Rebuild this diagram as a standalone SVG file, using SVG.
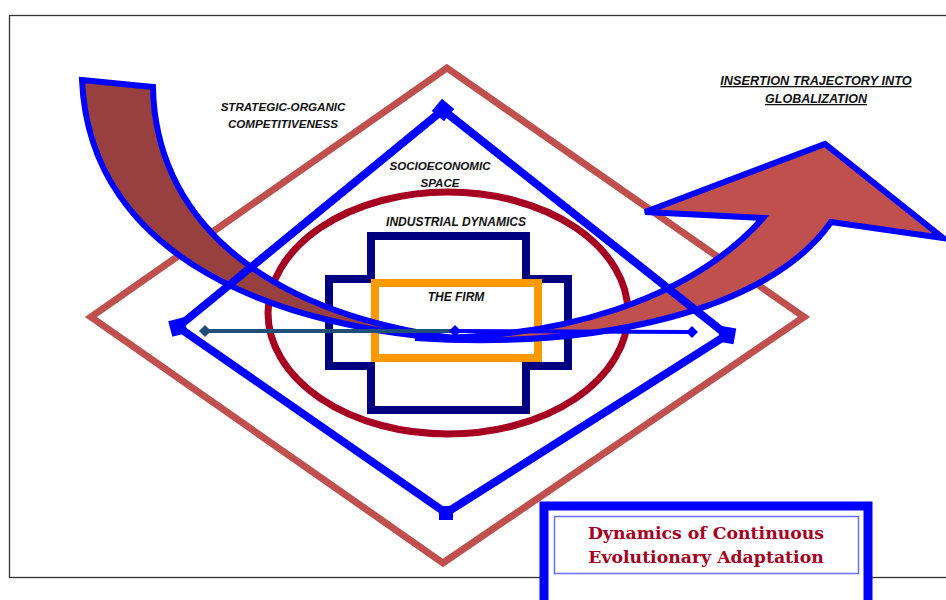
<svg xmlns="http://www.w3.org/2000/svg" width="946" height="600" viewBox="0 0 946 600">
<defs>
<style>
.lbl{font-family:"Liberation Sans",Arial,sans-serif;font-weight:bold;font-style:italic;fill:#111;text-anchor:middle}
.ttl{font-family:"DejaVu Serif","Liberation Serif",serif;font-weight:bold;fill:#A50021;text-anchor:middle;font-size:17.3px}
.bl{fill:none;stroke:#0000FF;stroke-width:8;stroke-linejoin:miter}
.mk{fill:#0000FF}
</style>
</defs>
<rect width="946" height="600" fill="#fff"/>
<rect id="frame" x="9.5" y="15.5" width="960" height="562" fill="none" stroke="#333" stroke-width="1.3"/>
<g id="strategic-diamond"><polygon points="447,68 804,317 443,563 91,317" fill="none" stroke="#C0504D" stroke-width="7"/></g>
<g id="industrial-ellipse"><ellipse cx="448" cy="313" rx="180" ry="121" fill="none" stroke="#A50021" stroke-width="7"/></g>
<g id="cross"><path d="M371,236 H526 V279 H568 V366 H526 V410 H371 V366 H329 V279 H371 Z" fill="none" stroke="#000080" stroke-width="8"/></g>
<g id="firm"><rect x="375" y="283" width="163" height="75" fill="none" stroke="#FF9900" stroke-width="8"/></g>
<g id="horn"><path d="M82,80 L153,87 C155,210 250,315 470,340 C280,330 90,260 82,80 Z" fill="#984040" stroke="#0000FF" stroke-width="6" stroke-linejoin="miter"/></g>
<g id="trajectory-arrow"><path d="M415,338 C560,340 690,300 763,218 L645,212 L825,144 L943,238 L831,222 C770,310 600,350 415,338 Z" fill="#C0504D" stroke="#0000FF" stroke-width="6" stroke-linejoin="miter"/></g>
<g id="space-diamond">
<polygon class="bl" points="443,110 727,335 446,513 178,327"/>
<rect class="mk" x="-8" y="-8" width="16" height="16" transform="translate(443,110) rotate(40)"/>
<rect class="mk" x="-8" y="-8" width="16" height="16" transform="translate(178,327) rotate(-15)"/>
<rect class="mk" x="-8" y="-8" width="16" height="16" transform="translate(727,335) rotate(10)"/>
<rect class="mk" x="-7" y="-7" width="14" height="14" transform="translate(446,513) rotate(0)"/>
</g>
<g id="connectors">
<line x1="205" y1="331" x2="455" y2="331" stroke="#1F4E79" stroke-width="4"/>
<line x1="455" y1="331" x2="692" y2="332" stroke="#0000FF" stroke-width="4"/>
<polygon points="205,325 211,331 205,337 199,331" fill="#1F4E79"/>
<polygon points="455,325 461,331 455,337 449,331" fill="#0000FF"/>
<polygon points="692,326 698,332 692,338 686,332" fill="#0000FF"/>
</g>
<g id="labels">
<text class="lbl" x="283" y="111" font-size="11.6">STRATEGIC-ORGANIC</text>
<text class="lbl" x="283" y="128" font-size="11.6">COMPETITIVENESS</text>
<text class="lbl" x="440" y="170" font-size="11.6">SOCIOECONOMIC</text>
<text class="lbl" x="440" y="187" font-size="11.6">SPACE</text>
<text class="lbl" x="456" y="226" font-size="12">INDUSTRIAL DYNAMICS</text>
<text class="lbl" x="456" y="301" font-size="12">THE FIRM</text>
<text class="lbl" x="816" y="85" font-size="12.7" text-decoration="underline">INSERTION TRAJECTORY INTO</text>
<text class="lbl" x="816" y="103" font-size="12.5" text-decoration="underline">GLOBALIZATION</text>
</g>
<g id="title-box">
<rect x="544" y="506" width="324" height="100" fill="#fff" stroke="#0000FF" stroke-width="9"/>
<rect x="554.5" y="516.5" width="304" height="57" fill="none" stroke="#6B6BFF" stroke-width="1.5"/>
<text class="ttl" x="706" y="539">Dynamics of Continuous</text>
<text class="ttl" x="706" y="563">Evolutionary Adaptation</text>
</g>
</svg>
